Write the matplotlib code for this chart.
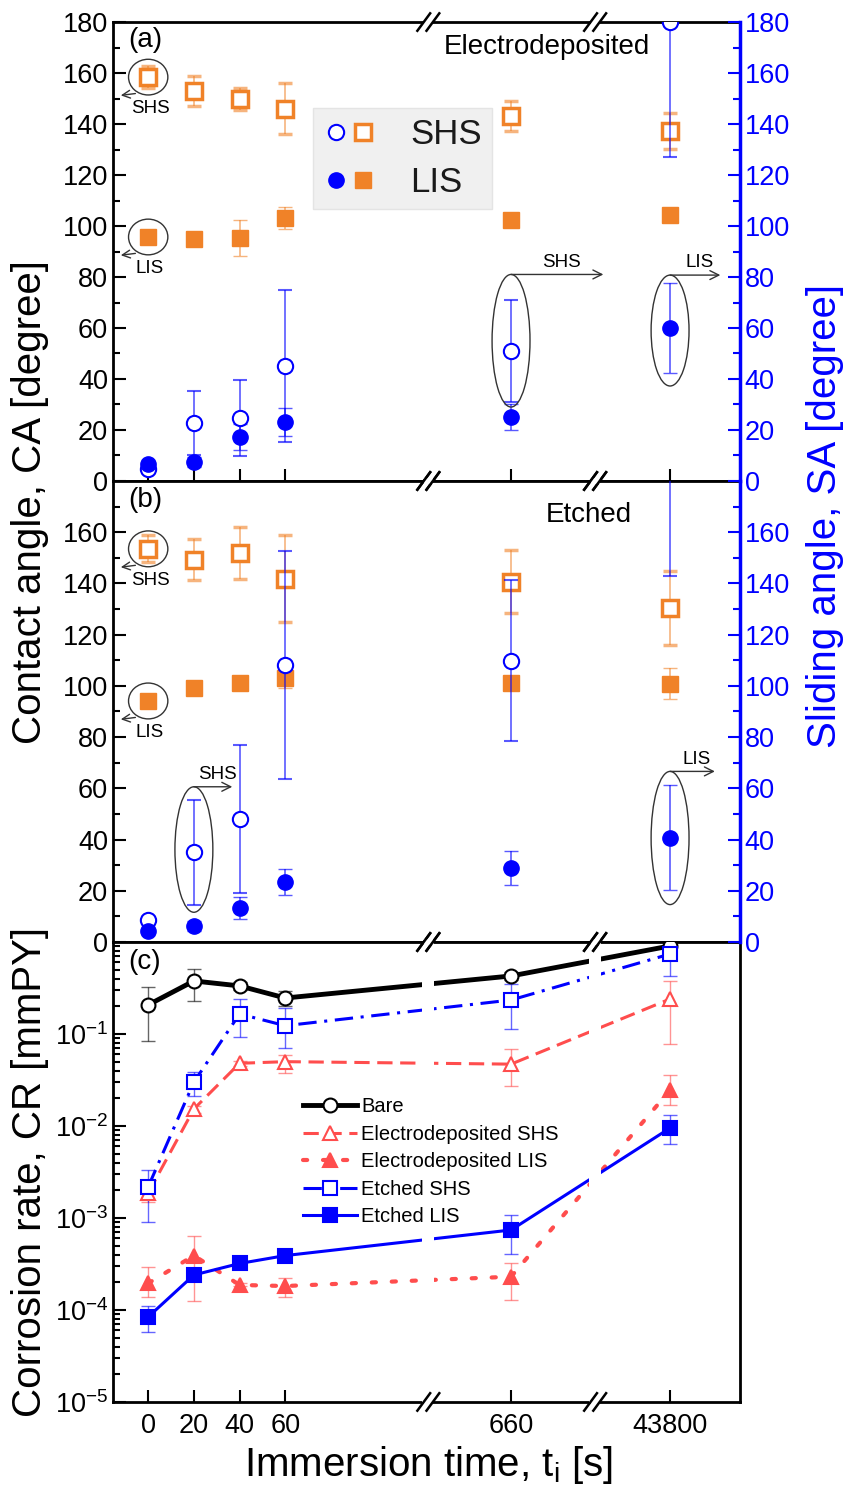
import numpy as np
import matplotlib
matplotlib.use('Agg')
from matplotlib import pyplot as plt
from matplotlib import transforms
from matplotlib.patches import Ellipse
from matplotlib.legend_handler import HandlerTuple

plt.rcParams['font.family'] = ['Liberation Sans', 'DejaVu Sans']
plt.rcParams['mathtext.fontset'] = 'custom'
plt.rcParams['mathtext.rm'] = 'Liberation Sans'
plt.rcParams['mathtext.it'] = 'Liberation Sans:italic'

# Immersion times (broken axis -> positions along the axis)
x_labels = ['0', '20', '40', '60', '660', '43800']
x_pos = [0, 1, 2, 3, 7.94, 11.42]
breaks = [6.13, 9.78]
XLIM = (-0.77, 12.95)

# (a) Electrodeposited: contact angle (CA) and sliding angle (SA)
ca_shs_ed = [158.4, 153.0, 149.8, 145.9, 143.1, 137.3]
ca_shs_ed_err = [4.3, 6.0, 4.3, 10.0, 6.0, 7.0]
ca_lis_ed = [95.7, 94.9, 95.3, 103.0, 102.4, 104.3]
ca_lis_ed_err = [1.0, 1.0, 7.0, 4.3, 1.0, 1.0]
sa_shs_ed = [4.7, 22.7, 24.7, 45.1, 51.0, 180.0]
sa_shs_ed_err = [1.5, 12.6, 15.0, 30.0, 20.0, 53.0]
sa_lis_ed = [6.7, 7.5, 17.3, 23.1, 25.1, 60.0]
sa_lis_ed_err = [1.0, 2.0, 5.0, 5.6, 5.0, 17.5]

# (b) Etched
ca_shs_et = [153.5, 149.2, 151.9, 141.8, 140.6, 130.5]
ca_shs_et_err = [5.3, 8.0, 10.0, 17.0, 12.3, 14.5]
ca_lis_et = [94.1, 99.2, 101.2, 103.1, 101.2, 100.8]
ca_lis_et_err = [1.0, 1.0, 1.0, 4.0, 1.0, 6.0]
sa_shs_et = [8.6, 35.1, 48.0, 108.0, 109.8, 185.0]
sa_shs_et_err = [1.0, 20.5, 29.0, 44.5, 31.5, 42.0]
sa_lis_et = [4.3, 6.2, 13.3, 23.4, 28.9, 40.6]
sa_lis_et_err = [1.0, 2.0, 4.3, 5.2, 6.6, 20.5]

# (c) Corrosion rate [mmPY], with lower / upper error limits
cr_bare = [0.207, 0.377, 0.333, 0.246, 0.427, 0.905]
cr_bare_lo = [0.084, 0.229, 0.30, 0.20, 0.39, 0.85]
cr_bare_hi = [0.324, 0.51, 0.37, 0.29, 0.47, 0.95]
cr_ed_shs = [0.00187, 0.0153, 0.048, 0.050, 0.047, 0.24]
cr_ed_shs_lo = [0.0015, 0.014, 0.045, 0.038, 0.027, 0.078]
cr_ed_shs_hi = [0.0023, 0.0165, 0.051, 0.059, 0.069, 0.377]
cr_ed_lis = [0.000195, 0.00039, 0.000187, 0.000182, 0.00023, 0.0245]
cr_ed_lis_lo = [0.00014, 0.000126, 0.00018, 0.00014, 0.000128, 0.017]
cr_ed_lis_hi = [0.00029, 0.00063, 0.000195, 0.00022, 0.00032, 0.036]
cr_et_shs = [0.00218, 0.030, 0.165, 0.123, 0.234, 0.74]
cr_et_shs_lo = [0.00091, 0.0213, 0.093, 0.07, 0.113, 0.43]
cr_et_shs_hi = [0.0033, 0.039, 0.24, 0.19, 0.35, 0.85]
cr_et_lis = [0.000084, 0.00024, 0.00032, 0.00039, 0.00074, 0.0095]
cr_et_lis_lo = [0.000058, 0.00022, 0.00030, 0.00036, 0.00041, 0.0064]
cr_et_lis_hi = [0.00011, 0.00026, 0.00034, 0.00042, 0.00107, 0.0132]

ORANGE = '#f08228'
BLUE = '#0000ff'
RED = '#ff4d4d'
TICKFS = 19.5
LABELFS = 29

fig = plt.figure(figsize=(8.49, 14.90), dpi=100)
L, W = 0.1331, 0.7385
axA = fig.add_axes([L, 0.6772, W, 0.3080])
axB = fig.add_axes([L, 0.3678, W, 0.3094])
axC = fig.add_axes([L, 0.0591, W, 0.3087])


def style_axis(ax):
    for s in ax.spines.values():
        s.set_linewidth(2)
    ax.tick_params(which='both', direction='in', width=1.5, labelsize=TICKFS)
    ax.tick_params(which='major', length=9)
    ax.tick_params(which='minor', length=5)
    ax.set_xlim(*XLIM)


def add_breaks(ax, z=10):
    tr = transforms.blended_transform_factory(ax.transData, ax.transAxes)
    for xb in breaks:
        for y in (0, 1):
            ax.plot([xb - 0.1, xb + 0.1], [y, y], transform=tr, color='white',
                    lw=4, clip_on=False, zorder=z, solid_capstyle='butt')
            for off in (-0.1, 0.1):
                ax.plot([xb + off - 0.14, xb + off + 0.14], [y - 0.019, y + 0.019],
                        transform=tr, color='black', lw=1.8, clip_on=False, zorder=z + 1)


def angle_panel(ax, ca_shs, ca_shs_err, ca_lis, ca_lis_err,
                sa_shs, sa_shs_err, sa_lis, sa_lis_err, top_label):
    style_axis(ax)
    ax.set_ylim(0, 180)
    ax.set_yticks(np.arange(0, top_label + 1, 20))
    ax.set_yticks(np.arange(10, 180, 10), minor=True)
    ax.set_xticks(x_pos)
    ax.set_xticklabels([])
    ax.spines['right'].set_visible(False)
    ax.tick_params(axis='x', which='both', top=False)
    ax.tick_params(axis='y', which='both', right=False)

    h_o_open = ax.errorbar(x_pos, ca_shs, yerr=ca_shs_err, fmt='s', ms=11, mfc='white',
                           mec=ORANGE, mew=2.5, ecolor=ORANGE, elinewidth=1.2, capsize=5,
                           capthick=1.2, zorder=3)
    h_o_fill = ax.errorbar(x_pos, ca_lis, yerr=ca_lis_err, fmt='s', ms=11, mfc=ORANGE,
                           mec=ORANGE, mew=1, ecolor=ORANGE, elinewidth=1.2, capsize=5,
                           capthick=1.2, zorder=3)
    for h in (h_o_open, h_o_fill):
        for art in h.lines[1] + h.lines[2]:
            art.set_alpha(0.6)

    tw = ax.twinx()
    style_axis(tw)
    tw.set_ylim(0, 180)
    tw.set_yticks(np.arange(0, top_label + 1, 20))
    tw.set_yticks(np.arange(10, 180, 10), minor=True)
    for k in ('left', 'top', 'bottom'):
        tw.spines[k].set_visible(False)
    tw.spines['right'].set_color(BLUE)
    tw.spines['right'].set_linewidth(2.5)
    tw.tick_params(axis='y', which='both', colors=BLUE, labelcolor=BLUE)

    h_b_open = tw.errorbar(x_pos, sa_shs, yerr=sa_shs_err, fmt='o', ms=11, mfc='white',
                           mec=BLUE, mew=1.5, ecolor=BLUE, elinewidth=1.2, capsize=5,
                           capthick=1.2, zorder=3)
    h_b_fill = tw.errorbar(x_pos, sa_lis, yerr=sa_lis_err, fmt='o', ms=11, mfc=BLUE,
                           mec=BLUE, mew=1, ecolor=BLUE, elinewidth=1.2, capsize=5,
                           capthick=1.2, zorder=3)
    for h in (h_b_open, h_b_fill):
        for art in h.lines[1] + h.lines[2]:
            art.set_alpha(0.65)

    # circles marking the left-axis (CA) series
    for yv, lab in ((ca_shs[0], 'SHS'), (ca_lis[0], 'LIS')):
        tw.add_patch(Ellipse((x_pos[0], yv), 0.86, 14, fill=False, ec='#333333', lw=1, zorder=4))
        tw.annotate('', xy=(x_pos[0] - 0.66, yv - 7.3), xytext=(x_pos[0] - 0.22, yv - 6.3),
                    arrowprops=dict(arrowstyle='->', color='#333333', lw=1, mutation_scale=14))
        tw.text(x_pos[0] + 0.04, yv - 12.3, lab, fontsize=13.5, ha='center', va='center')
    add_breaks(tw)
    return tw, (h_b_open[0], h_o_open[0]), (h_b_fill[0], h_o_fill[0])


def right_marker(tw, xc, yc, h, x_end, lab):
    tw.add_patch(Ellipse((xc, yc), 0.83, h, fill=False, ec='#333333', lw=1, zorder=4))
    ytop = yc + h / 2
    tw.annotate('', xy=(x_end, ytop), xytext=(xc, ytop),
                arrowprops=dict(arrowstyle='->', color='#333333', lw=1, mutation_scale=16,
                                shrinkA=0, shrinkB=0))
    tw.text((xc + x_end) / 2 + 0.1, ytop + 1.5, lab, fontsize=13.5, ha='center', va='bottom')


# ---- (a) ----
twA, hs_shs, hs_lis = angle_panel(axA, ca_shs_ed, ca_shs_ed_err, ca_lis_ed, ca_lis_ed_err,
                                  sa_shs_ed, sa_shs_ed_err, sa_lis_ed, sa_lis_ed_err, 180)
axA.tick_params(axis='x', which='major', bottom=True)
right_marker(twA, x_pos[4], sa_shs_ed[4] + 4, 52, 9.96, 'SHS')
right_marker(twA, x_pos[5], sa_lis_ed[5] - 1, 43.5, 12.52, 'LIS')
axA.text(0.024, 0.961, '(a)', transform=axA.transAxes, fontsize=20, va='center', ha='left')
axA.text(0.857, 0.946, 'Electrodeposited', transform=axA.transAxes, fontsize=20,
         va='center', ha='right')
leg = twA.legend([hs_shs, hs_lis], ['SHS', 'LIS'],
                 handler_map={tuple: HandlerTuple(ndivide=None, pad=0.1)},
                 loc='upper left', bbox_to_anchor=(0.319, 0.8126), borderaxespad=0,
                 fontsize=25, frameon=True, fancybox=False, facecolor='#f0f0f0',
                 edgecolor='#e4e4e4', framealpha=1, handlelength=1.5, handletextpad=1.0,
                 labelspacing=0.42, borderpad=0.3, labelcolor='#1a1a1a')
leg.set_zorder(20)

# ---- (b) ----
twB, _, _ = angle_panel(axB, ca_shs_et, ca_shs_et_err, ca_lis_et, ca_lis_et_err,
                        sa_shs_et, sa_shs_et_err, sa_lis_et, sa_lis_et_err, 160)
axB.tick_params(axis='x', which='both', bottom=False)
right_marker(twB, x_pos[1], sa_shs_et[1] + 1, 49, 1.84, 'SHS')
right_marker(twB, x_pos[5], sa_lis_et[5], 52, 12.4, 'LIS')
axB.text(0.024, 0.959, '(b)', transform=axB.transAxes, fontsize=20, va='center', ha='left')
axB.text(0.828, 0.926, 'Etched', transform=axB.transAxes, fontsize=20, va='center', ha='right')

# ---- (c) ----
style_axis(axC)
axC.set_yscale('log')
axC.set_ylim(1e-5, 1)
axC.set_yticks([1e-5, 1e-4, 1e-3, 1e-2, 1e-1])
axC.set_xticks(x_pos)
axC.set_xticklabels(x_labels)
axC.tick_params(axis='x', which='both', top=False, pad=8)
axC.tick_params(axis='y', which='both', right=False)

series = [
    (cr_bare, cr_bare_lo, cr_bare_hi, 'black', '-', 'o', 'white', 3.5, 'Bare'),
    (cr_ed_shs, cr_ed_shs_lo, cr_ed_shs_hi, RED, (0, (5, 2.5)), '^', 'white', 2.2,
     'Electrodeposited SHS'),
    (cr_ed_lis, cr_ed_lis_lo, cr_ed_lis_hi, RED, (0, (1.0, 3.8)), '^', RED, 3.0,
     'Electrodeposited LIS'),
    (cr_et_shs, cr_et_shs_lo, cr_et_shs_hi, BLUE, (0, (6, 2.5, 1, 2.5)), 's', 'white', 2.2,
     'Etched SHS'),
    (cr_et_lis, cr_et_lis_lo, cr_et_lis_hi, BLUE, '-', 's', BLUE, 2.2, 'Etched LIS'),
]
handles = []
for y, lo, hi, col, ls, mk, mfc, lw, lab in series:
    y = np.array(y)
    yerr = [y - np.array(lo), np.array(hi) - y]
    axC.errorbar(x_pos, y, yerr=yerr, fmt='none', ecolor=col, elinewidth=1, capsize=5,
                 capthick=1, alpha=0.6, zorder=2)
    ln, = axC.plot(x_pos, y, linestyle=ls, color=col, lw=lw, marker=mk, ms=10, mfc=mfc,
                   mec=col, mew=1.5, label=lab, zorder=3,
                   dash_capstyle='round' if mk == '^' and mfc == RED else 'butt')
    handles.append(ln)
for xb in breaks:
    axC.axvspan(xb - 0.13, xb + 0.13, color='white', lw=0, zorder=3.5)
add_breaks(axC)
legC = axC.legend(handles=handles, loc='upper left', bbox_to_anchor=(0.29, 0.68),
                  borderaxespad=0, frameon=False, fontsize=14.5, handlelength=2.7,
                  handletextpad=0.2, labelspacing=0.42)
legC.set_zorder(20)
axC.text(0.024, 0.957, '(c)', transform=axC.transAxes, fontsize=20, va='center', ha='left')

# axis titles
fig.text(0.035, 0.663, 'Contact angle, CA [degree]', rotation=90, fontsize=LABELFS,
         ha='center', va='center')
fig.text(0.972, 0.654, 'Sliding angle, SA [degree]', rotation=90, fontsize=LABELFS,
         ha='center', va='center', color=BLUE)
fig.text(0.035, 0.2134, 'Corrosion rate, CR [mmPY]', rotation=90, fontsize=LABELFS,
         ha='center', va='center')
fig.text(0.505, 0.0168, r'Immersion time, t$_\mathregular{i}$ [s]', fontsize=LABELFS,
         ha='center', va='center')

fig.savefig('out.png', dpi=100)
